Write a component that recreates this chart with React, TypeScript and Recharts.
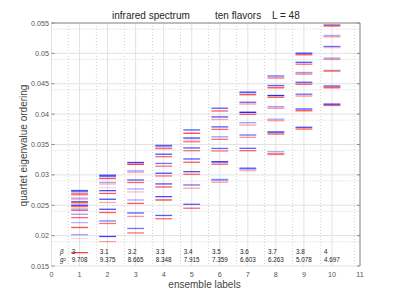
import React from 'react';
import {
  ComposedChart,
  XAxis,
  YAxis,
  CartesianGrid,
  ReferenceLine,
  Scatter,
} from 'recharts';

const ensembles = [1, 2, 3, 4, 5, 6, 7, 8, 9, 10];
const betaLabels = ['3', '3.1', '3.2', '3.3', '3.4', '3.5', '3.6', '3.7', '3.8', '4'];
const g2Labels = ['9.708', '9.375', '8.665', '8.348', '7.915', '7.359', '6.603', '6.263', '5.078', '4.697'];

// eigenvalue levels per ensemble (blue series)
const blueLevels = [
  [0.02742, 0.02722, 0.02618, 0.0256, 0.025, 0.02438, 0.02352, 0.02214, 0.02016],
  [0.02994, 0.02972, 0.02875, 0.0274, 0.02599, 0.02434, 0.02242, 0.01986],
  [0.03204, 0.03065, 0.02916, 0.02768, 0.02587, 0.02373, 0.02118],
  [0.03485, 0.03472, 0.0334, 0.03188, 0.03027, 0.02851, 0.02642, 0.02332],
  [0.0374, 0.03612, 0.03598, 0.03443, 0.03262, 0.03053, 0.02834, 0.02516],
  [0.04097, 0.0396, 0.03947, 0.0379, 0.03626, 0.03435, 0.03214, 0.02925, 0.02912],
  [0.04365, 0.04352, 0.04195, 0.0403, 0.03859, 0.03656, 0.03437, 0.03112, 0.03099],
  [0.04628, 0.04471, 0.04306, 0.04122, 0.03916, 0.0371, 0.03697, 0.03381],
  [0.05003, 0.04853, 0.04685, 0.04524, 0.04328, 0.04084, 0.03783],
  [0.05467, 0.05294, 0.05113, 0.04921, 0.04722, 0.04463, 0.04168, 0.04156],
];
const blueAlpha = [
  [0.7, 0.55, 0.35, 0.6, 0.75, 0.35, 0.4, 0.3, 0.35],
  [0.75, 0.55, 0.35, 0.7, 0.7, 0.7, 0.5, 0.75],
  [0.75, 0.4, 0.65, 0.35, 0.35, 0.65, 0.55],
  [0.55, 0.45, 0.7, 0.55, 0.7, 0.7, 0.7, 0.65],
  [0.65, 0.45, 0.4, 0.65, 0.65, 0.7, 0.55, 0.65],
  [0.65, 0.4, 0.35, 0.65, 0.4, 0.6, 0.95, 0.4, 0.35],
  [0.55, 0.5, 0.6, 0.9, 0.4, 0.55, 0.6, 0.5, 0.5],
  [0.6, 0.6, 0.85, 0.4, 0.35, 0.55, 0.5, 0.35],
  [0.75, 0.65, 0.4, 0.65, 0.6, 0.7, 0.7],
  [0.6, 0.35, 0.6, 0.4, 0.2, 0.65, 0.55, 0.5],
];

// eigenvalue levels per ensemble (red series)
const redLevels = [
  [0.0269, 0.02672, 0.02598, 0.0254, 0.02477, 0.02416, 0.02296, 0.02134, 0.01954, 0.0172],
  [0.0294, 0.0285, 0.0279, 0.02694, 0.02546, 0.02381, 0.022, 0.01901],
  [0.03175, 0.0304, 0.02875, 0.02719, 0.0253, 0.02316, 0.02044],
  [0.03442, 0.0343, 0.033, 0.03143, 0.02982, 0.02801, 0.02587, 0.02278],
  [0.03685, 0.03555, 0.03541, 0.03398, 0.03208, 0.0301, 0.0278, 0.02451],
  [0.04052, 0.03912, 0.03749, 0.03585, 0.03394, 0.03176, 0.0288],
  [0.0432, 0.04167, 0.03997, 0.03821, 0.03618, 0.03398, 0.03069],
  [0.04595, 0.04442, 0.0443, 0.04277, 0.04096, 0.03891, 0.03672, 0.03348, 0.03336],
  [0.04977, 0.04822, 0.0466, 0.04493, 0.04298, 0.04055, 0.03755],
  [0.05451, 0.05273, 0.05093, 0.04899, 0.0471, 0.04442, 0.0443, 0.04142],
];
const redAlpha = [
  [0.55, 0.5, 0.3, 0.7, 0.6, 0.6, 0.6, 0.7, 0.15, 0.75],
  [0.65, 0.3, 0.15, 0.65, 0.35, 0.65, 0.55, 0.35],
  [0.85, 0.3, 0.6, 0.25, 0.65, 0.4, 0.55],
  [0.45, 0.4, 0.6, 0.55, 0.55, 0.65, 0.75, 0.6],
  [0.75, 0.4, 0.35, 0.55, 0.65, 0.6, 0.35, 0.6],
  [0.65, 0.35, 0.6, 0.55, 0.55, 0.65, 0.4],
  [0.7, 0.4, 0.65, 0.35, 0.4, 0.6, 0.3],
  [0.6, 0.5, 0.45, 0.65, 0.4, 0.4, 0.65, 0.5, 0.45],
  [0.7, 0.6, 0.55, 0.7, 0.45, 0.7, 0.65],
  [0.7, 0.4, 0.2, 0.4, 0.7, 0.55, 0.45, 0.55],
];

const xTicks = [0, 1, 2, 3, 4, 5, 6, 7, 8, 9, 10, 11];
const yTicks = [0.015, 0.02, 0.025, 0.03, 0.035, 0.04, 0.045, 0.05, 0.055];

const HALF = 0.3; // half width of a level marker, in ensemble units
const BETA_ROW = 0.01731;
const G2_ROW = 0.01608;
const LABEL_SHIFT = 0.28;
const FONT = '"Liberation Sans", Arial, Helvetica, sans-serif';

// minor grid positions (MATLAB style: 5 subdivisions)
const minorX: number[] = [];
for (let i = 1; i < 55; i++) if (i % 5 !== 0) minorX.push(i / 5);
const minorY: number[] = [];
for (let i = 16; i < 55; i++) if (i % 5 !== 0) minorY.push(i / 1000);

const segments = ensembles.flatMap((e, i) => [
  ...blueLevels[i].map((v, j) => ({ e, v, color: '#0000ff', a: blueAlpha[i][j] })),
  ...redLevels[i].map((v, j) => ({ e, v, color: '#ff0000', a: redAlpha[i][j] })),
]);

const annotations = [
  { x: 0.3, y: BETA_ROW, text: 'β', italic: true },
  { x: 0.3, y: G2_ROW, text: 'g²', italic: true },
  ...ensembles.map((e, i) => ({ x: e - LABEL_SHIFT, y: BETA_ROW, text: betaLabels[i], italic: false })),
  ...ensembles.map((e, i) => ({ x: e - LABEL_SHIFT, y: G2_ROW, text: g2Labels[i], italic: false })),
];

const AnnotationText = (p: any) => (
  <text
    x={p.cx}
    y={p.cy}
    dy="0.35em"
    fontSize={6.3}
    fill="#222"
    fontFamily={FONT}
    fontStyle={p.payload.italic ? 'italic' : 'normal'}
  >
    {p.payload.text}
  </text>
);

const noTick = () => <g />;
const tickStyle = { fontSize: 7.2, fill: '#555', fontFamily: FONT };

export default function App() {
  return (
    <div style={{ position: 'absolute', left: 0, top: 0, width: 399, height: 299, background: '#fff' }}>
      <ComposedChart width={399} height={299} margin={{ top: 23, right: 39, bottom: 0, left: 0 }}>
        <CartesianGrid stroke="#d2d2d2" strokeDasharray="1 2" verticalValues={minorX} horizontalValues={minorY} />
        <CartesianGrid stroke="#e2e2e2" verticalValues={xTicks} horizontalValues={yTicks} />
        <XAxis
          type="number"
          dataKey="x"
          domain={[0, 11]}
          ticks={xTicks}
          allowDataOverflow
          axisLine={false}
          tickLine={false}
          tickSize={3}
          tickMargin={2.5}
          height={33}
          tick={tickStyle}
        />
        <YAxis
          type="number"
          dataKey="y"
          domain={[0.015, 0.055]}
          ticks={yTicks}
          allowDataOverflow
          axisLine={false}
          tickLine={false}
          tickSize={1}
          tickMargin={1.5}
          width={51.5}
          tick={tickStyle}
        />
        <XAxis xAxisId="top" orientation="top" mirror type="number" domain={[0, 11]} ticks={xTicks} allowDataOverflow
          axisLine={{ stroke: '#8a8a8a' }} tickLine={{ stroke: '#8a8a8a' }} tickSize={3} height={10} tick={noTick} />
        <XAxis xAxisId="bot" orientation="bottom" mirror type="number" domain={[0, 11]} ticks={xTicks} allowDataOverflow
          axisLine={false} tickLine={{ stroke: '#8a8a8a' }} tickSize={3} height={10} tick={noTick} />
        <YAxis yAxisId="right" orientation="right" mirror type="number" domain={[0.015, 0.055]} ticks={yTicks} allowDataOverflow
          axisLine={{ stroke: '#8a8a8a' }} tickLine={{ stroke: '#8a8a8a' }} tickSize={3} width={10} tick={noTick} />
        <YAxis yAxisId="leftTicks" orientation="left" mirror type="number" domain={[0.015, 0.055]} ticks={yTicks} allowDataOverflow
          axisLine={false} tickLine={{ stroke: '#8a8a8a' }} tickSize={3} width={10} tick={noTick} />
        {segments.map((s, k) => (
          <ReferenceLine
            key={k}
            segment={[{ x: s.e - HALF, y: s.v }, { x: s.e + HALF, y: s.v }]}
            stroke={s.color}
            strokeOpacity={s.a}
            strokeWidth={1.3}
          />
        ))}
        <Scatter data={annotations} isAnimationActive={false} shape={AnnotationText} />
      </ComposedChart>
      <svg width={399} height={299} style={{ position: 'absolute', left: 0, top: 0, pointerEvents: 'none' }}>
        <g fontFamily={FONT} fontSize={10} fill="#262626">
          <text x={112} y={18.5}>infrared spectrum</text>
          <text x={215} y={18.5}>ten flavors</text>
          <text x={272} y={18.5}>L = 48</text>
        </g>
        <text x={204.5} y={288} textAnchor="middle" fontFamily={FONT} fontSize={10} fill="#444">
          ensemble labels
        </text>
        <text
          x={27}
          y={145.5}
          textAnchor="middle"
          fontFamily={FONT}
          fontSize={10}
          fill="#444"
          transform="rotate(-90 27 145.5)"
        >
          quartet eigenvalue ordering
        </text>
      </svg>
    </div>
  );
}
